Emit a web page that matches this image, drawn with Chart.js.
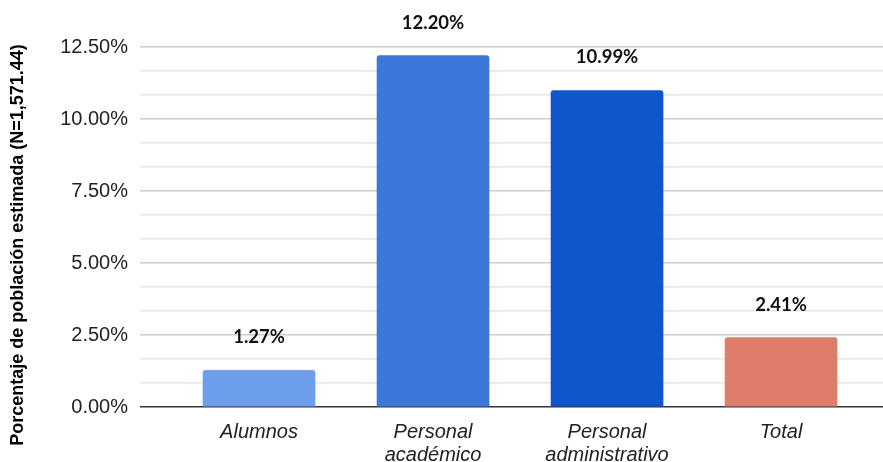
<!DOCTYPE html>
<html>
<head>
<meta charset="utf-8">
<script src="https://cdn.jsdelivr.net/npm/chart.js@4/dist/chart.umd.min.js"></script>
<style>
  html, body { margin: 0; padding: 0; background: #ffffff; }
  #wrap { width: 883px; height: 462px; position: relative; }
</style>
</head>
<body>
<div id="wrap"><canvas id="c" width="883" height="462"></canvas></div>
<script>
// Categories, values (% of estimated population) and bar colours
const categories = [["Alumnos"], ["Personal", "académico"], ["Personal", "administrativo"], ["Total"]];
const values = [1.27, 12.20, 10.99, 2.41];
const barColors = ["#6d9eeb", "#3c78d8", "#1155cc", "#dd7e6b"];
const majorTicks = [0, 2.5, 5, 7.5, 10, 12.5];
const yTitle = "Porcentaje de población estimada (N=1,571.44)";

const points = values.map((v, i) => ({ x: i, y: v }));

// Value labels above each bar
const valueLabels = {
  id: "valueLabels",
  afterDatasetsDraw(chart) {
    const ctx = chart.ctx;
    const meta = chart.getDatasetMeta(0);
    ctx.save();
    ctx.font = "bold 18.5px Lato";
    ctx.fillStyle = "#111111";
    ctx.textAlign = "center";
    ctx.textBaseline = "middle";
    meta.data.forEach((bar, i) => {
      ctx.fillText(values[i].toFixed(2) + "%", bar.x, bar.y - 33);
    });
    ctx.restore();
  }
};

// Rotated y-axis title
const axisTitle = {
  id: "axisTitle",
  afterDraw(chart) {
    const ctx = chart.ctx;
    ctx.save();
    ctx.translate(18, 245);
    ctx.rotate(-Math.PI / 2);
    ctx.font = "bold 18px 'Liberation Sans'";
    ctx.fillStyle = "#000000";
    ctx.textAlign = "center";
    ctx.textBaseline = "middle";
    ctx.fillText(yTitle, 0, 0);
    ctx.restore();
  }
};

const isMajor = v => majorTicks.some(m => Math.abs(m - v) < 1e-6);

new Chart(document.getElementById("c"), {
  type: "bar",
  data: {
    datasets: [{
      data: points,
      backgroundColor: barColors,
      borderRadius: 3,
      borderSkipped: "bottom",
      barThickness: 112
    }]
  },
  options: {
    responsive: false,
    animation: false,
    events: [],
    layout: { padding: { top: 47, right: 0, left: 0, bottom: 0 } },
    plugins: { legend: { display: false }, tooltip: { enabled: false } },
    scales: {
      x: {
        type: "linear",
        offset: false,
        min: -0.684,
        max: 3.586,
        grid: { display: false },
        border: { display: false },
        afterBuildTicks(scale) {
          scale.ticks = categories.map((c, i) => ({ value: i }));
        },
        afterFit(scale) { scale.height = 55; },
        ticks: {
          autoSkip: false,
          maxRotation: 0,
          padding: 6,
          color: "#222222",
          font: { family: "'Liberation Sans'", size: 20, style: "italic", lineHeight: 1.15 },
          callback: v => categories[v]
        }
      },
      y: {
        min: 0,
        max: 12.5,
        border: { display: false },
        afterBuildTicks(scale) {
          const t = [];
          for (let i = 0; i <= 15; i++) t.push({ value: i * 2.5 / 3 });
          scale.ticks = t;
        },
        afterFit(scale) { scale.width = 140; },
        grid: {
          drawTicks: false,
          lineWidth: 1.5,
          color: ctx => {
            const v = ctx.tick ? ctx.tick.value : 1;
            if (Math.abs(v) < 1e-6) return "#333333";
            return isMajor(v) ? "#cccccc" : "#e6e6e6";
          }
        },
        ticks: {
          autoSkip: false,
          padding: 12,
          color: "#222222",
          font: { family: "'Liberation Sans'", size: 20 },
          callback: v => isMajor(v) ? v.toFixed(2) + "%" : ""
        }
      }
    }
  },
  plugins: [valueLabels, axisTitle]
});
</script>
</body>
</html>
